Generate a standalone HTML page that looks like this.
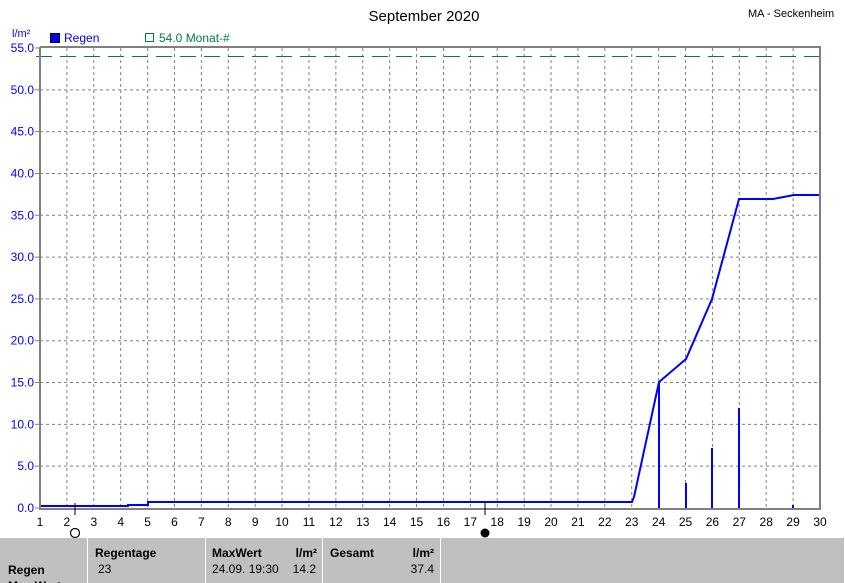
<!DOCTYPE html>
<html><head><style>
body{margin:0;background:#fff;width:845px;height:583px;overflow:hidden;position:relative;font-family:"Liberation Sans",sans-serif}
.t{position:absolute;font-size:12px}
</style></head><body>
<svg width="845" height="583" style="position:absolute;left:0;top:0" font-family="Liberation Sans, sans-serif">
<text x="424" y="21" font-size="15" text-anchor="middle" fill="#000">September 2020</text>
<text x="748" y="17" font-size="11" fill="#000">MA - Seckenheim</text>
<text x="12" y="37" font-size="11" fill="#0000ff">l/m²</text>
<rect x="50.5" y="33.5" width="9" height="9" fill="#0000ff" stroke="#000"/>
<text x="64" y="42" font-size="12" fill="#0000ff">Regen</text>
<rect x="145.5" y="33.5" width="8" height="8" fill="none" stroke="#008040"/>
<text x="159" y="42" font-size="12" fill="#008040">54.0 Monat-#</text>
<g stroke="#808080" stroke-dasharray="3,3" stroke-width="1">
<g id="v"></g>
</g>
<g id="grid" stroke="#808080" stroke-dasharray="3,3"></g>
<line x1="36" y1="56.5" x2="820" y2="56.5" stroke="#008040" stroke-dasharray="16,8" stroke-width="1"/>
<g stroke="#0000ff" stroke-width="2" fill="none">
<polyline points="40,506 128,506 128,505 148,505 148,502 632,502 634,497 659,382 686,359 712,299 739,199 773,199 794,195 820,195"/>
<line x1="659" y1="508" x2="659" y2="383"/>
<line x1="686" y1="508" x2="686" y2="483"/>
<line x1="712" y1="508" x2="712" y2="448"/>
<line x1="739" y1="508" x2="739" y2="408"/>
<line x1="793" y1="508" x2="793" y2="505"/>
</g>
<g stroke="#808080" stroke-width="3" fill="none"><polyline points="40,47 40,509 820,509 820,47 40,47" stroke-width="2"/></g>
<g id="labels" font-size="12"></g>
<line x1="75" y1="503" x2="75" y2="515" stroke="#000"/>
<circle cx="75" cy="533" r="4.5" fill="none" stroke="#000" stroke-width="1.2"/>
<line x1="485" y1="503" x2="485" y2="515" stroke="#000"/>
<circle cx="485" cy="533" r="4.5" fill="#000"/>
<rect x="0" y="538" width="845" height="45" fill="#c0c0c0"/>
<g stroke="#fff"><line x1="87.5" y1="538" x2="87.5" y2="583"/><line x1="205.5" y1="538" x2="205.5" y2="583"/><line x1="322.5" y1="538" x2="322.5" y2="583"/><line x1="440.5" y1="538" x2="440.5" y2="583"/><line x1="844.5" y1="538" x2="844.5" y2="583"/></g>
<g font-size="12" fill="#000">
<text x="95" y="557" font-weight="bold">Regentage</text>
<text x="98" y="573">23</text>
<text x="212" y="557" font-weight="bold">MaxWert</text>
<text x="317" y="557" font-weight="bold" text-anchor="end">l/m²</text>
<text x="212" y="573">24.09.  19:30</text>
<text x="316" y="573" text-anchor="end">14.2</text>
<text x="330" y="557" font-weight="bold">Gesamt</text>
<text x="434" y="557" font-weight="bold" text-anchor="end">l/m²</text>
<text x="434" y="573" text-anchor="end">37.4</text>
<text x="8" y="574" font-weight="bold">Regen</text>
<text x="8" y="590" font-weight="bold">Max Wert</text>
</g>
</svg>
<script>
var ns="http://www.w3.org/2000/svg",g=document.getElementById("grid"),L=document.getElementById("labels");
function el(p,n,a,t){var e=document.createElementNS(ns,n);for(var k in a)e.setAttribute(k,a[k]);if(t)e.textContent=t;p.appendChild(e);}
for(var d=1;d<=30;d++){var x=40+(d-1)*780/29;if(d>1&&d<30)el(g,"line",{x1:x,y1:48,x2:x,y2:508});
el(L,"text",{x:x,y:526,"text-anchor":"middle",fill:"#000"},""+d);}
for(var v=0;v<=55;v+=5){var y=508-v*460/55;if(v>0&&v<55)el(g,"line",{x1:40,y1:y,x2:820,y2:y});
el(L,"line",{x1:35,y1:y,x2:40,y2:y,stroke:"#808080"});
el(L,"text",{x:34,y:y+4,"text-anchor":"end",fill:"#0000ff"},v.toFixed(1));}
</script>
</body></html>
